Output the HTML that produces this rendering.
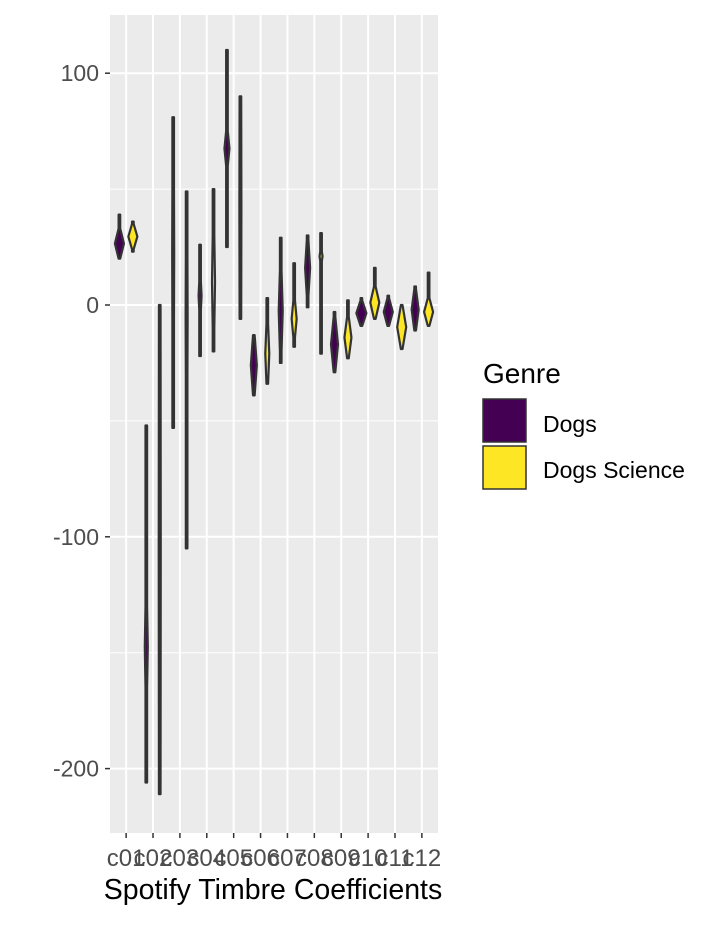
<!DOCTYPE html>
<html><head><meta charset="utf-8"><style>
body{margin:0;background:#fff;font-family:"Liberation Sans",sans-serif}
</style></head><body>
<svg id="chart" width="720" height="921" xmlns="http://www.w3.org/2000/svg" font-family="Liberation Sans, sans-serif">
<rect x="110" y="15" width="328" height="818" fill="#ebebeb"/>
<g id="grid"></g>
<g id="marks"></g>
<g id="axes"></g>
<text x="273" y="899" font-size="28.5" text-anchor="middle" fill="#000">Spotify Timbre Coefficients</text>
<g>
<text x="483" y="383" font-size="28" fill="#000">Genre</text>
<rect x="483" y="399" width="43" height="43" fill="#440154" stroke="#333" stroke-width="1.5"/>
<text x="543" y="432" font-size="23" fill="#000">Dogs</text>
<rect x="483" y="446" width="43" height="43" fill="#fde725" stroke="#333" stroke-width="1.5"/>
<text x="543" y="478" font-size="23" fill="#000">Dogs Science</text>
</g>
</svg>
<script>
const categories=["c01","c02","c03","c04","c05","c06","c07","c08","c09","c10","c11","c12"];
const yTicks=[100,0,-100,-200];
const yMinor=[50,-50,-150];
// Dogs
const dogsMin=[20,-206,-53,-22,25,-39,-25,-1,-29,-9,-9,-11];
const dogsMax=[39,-52,81,26,110,-13,29,30,-3,3,4,8];
const dogsBodyLo=[20,-165,-5,-2,60,-39,-20,4,-29,-9,-9,-11];
const dogsBodyHi=[33,-130,50,10,75,-13,15,28,-5,2,3,7];
const dogsBodyW=[4.5,1.5,1,1.5,2.5,3,2,2.5,3.5,5,4.5,3.5];
// Dogs Science
const sciMin=[23,-211,-105,-20,-6,-34,-18,-21,-23,-6,-19,-9];
const sciMax=[36,0,49,50,90,3,18,31,2,16,0,14];
const sciBodyLo=[24,-211,-30,-10,-6,-34,-14,19,-23,-6,-19,-9];
const sciBodyHi=[35,0,20,30,90,-8,2,23,-5,8,0,3];
const sciBodyW=[4.5,1,1,1.5,1,2,2.5,1.5,3.5,4.5,4.5,4.5];

const NS="http://www.w3.org/2000/svg";
const px0=110,pw=328,n=categories.length;
const step=pw/(n-1+1.2);
const xPos=i=>px0+(0.6+i)*step;
const yPos=v=>305-2.318*v;
const grid=document.getElementById('grid'),marks=document.getElementById('marks'),axes=document.getElementById('axes');
function mk(tag,attrs,parent){const e=document.createElementNS(NS,tag);for(const k in attrs)e.setAttribute(k,attrs[k]);parent.appendChild(e);return e;}
yMinor.forEach(v=>{const l=mk('line',{x1:110,x2:438,y1:yPos(v),y2:yPos(v),stroke:'#fff','stroke-width':1},grid);

});
yTicks.forEach(v=>{const l=mk('line',{x1:110,x2:438,y1:yPos(v),y2:yPos(v),stroke:'#fff','stroke-width':2},grid);


const t=mk('line',{x1:105,x2:110,y1:yPos(v),y2:yPos(v),stroke:'#333','stroke-width':1.5},axes);


const tx=mk('text',{x:99,y:yPos(v)+8,'font-size':23,'text-anchor':'end',fill:'#4d4d4d'},axes);
tx.textContent=v;

});
categories.forEach((c,i)=>{const x=xPos(i);
const l=mk('line',{x1:x,x2:x,y1:15,y2:833,stroke:'#fff','stroke-width':2},grid);


const t=mk('line',{x1:x,x2:x,y1:833,y2:838,stroke:'#333','stroke-width':1.5},axes);


const tx=mk('text',{x:x,y:866,'font-size':24,'text-anchor':'middle',fill:'#4d4d4d'},axes);
tx.textContent=c;

});
function violin(cx,mn,mx,lo,hi,w,fill,name){
 const pts=[[mx,0.8],[hi,0.8],[(hi+lo)/2,w],[lo,0.8],[mn,0.8]];
 let d='';pts.forEach((p,k)=>{d+=(k?'L':'M')+(cx+p[1])+','+yPos(p[0]);});
 for(let k=pts.length-1;k>=0;k--){d+='L'+(cx-pts[k][1])+','+yPos(pts[k][0]);}
 d+='Z';
 const p=mk('path',{d:d,fill:fill,stroke:'#333','stroke-width':2.2,'stroke-linejoin':'round'},marks);
 
 
}
const off=step*0.25;
categories.forEach((c,i)=>{
 violin(xPos(i)-off,dogsMin[i],dogsMax[i],dogsBodyLo[i],dogsBodyHi[i],dogsBodyW[i],'#440154','violin-dogs-'+c);
 violin(xPos(i)+off,sciMin[i],sciMax[i],sciBodyLo[i],sciBodyHi[i],sciBodyW[i],'#fde725','violin-dogs-science-'+c);
});
</script>
</body></html>
